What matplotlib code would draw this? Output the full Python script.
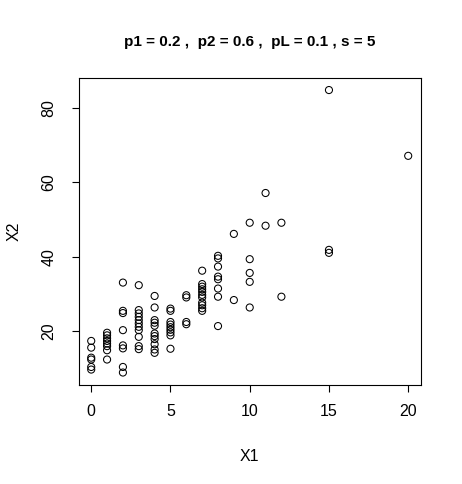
import matplotlib
matplotlib.use("Agg")
import matplotlib.pyplot as plt

plt.rcParams["font.family"] = ["Liberation Sans", "DejaVu Sans"]

# points, one list per X1 value
x1_vals = [0, 1, 2, 3, 4, 5, 6, 7, 8, 9, 10, 11, 12, 15, 20]
x2_vals = [
    [17.3, 15.5, 12.8, 12.3, 10.3, 9.6],
    [19.5, 18.8, 18.0, 17.3, 16.6, 15.9, 14.8, 12.3],
    [33.0, 25.4, 24.8, 20.2, 16.1, 15.3, 10.3, 8.8],
    [32.3, 25.6, 24.7, 23.8, 22.9, 22.0, 21.1, 20.2, 18.4, 15.9, 15.1],
    [29.4, 26.3, 22.9, 22.2, 21.4, 19.3, 18.6, 17.8, 16.4, 15.0, 14.1],
    [26.0, 25.4, 22.4, 21.7, 21.0, 20.3, 19.6, 18.8, 15.2],
    [29.6, 29.0, 22.4, 21.8],
    [36.2, 32.6, 31.9, 31.2, 30.5, 29.7, 29.0, 27.6, 26.9, 26.1, 25.4],
    [40.2, 39.5, 37.3, 34.6, 33.9, 31.4, 29.2, 21.3],
    [46.1, 28.3],
    [49.1, 39.3, 35.6, 33.2, 26.3],
    [57.1, 48.3],
    [49.1, 29.2],
    [84.8, 41.8, 41.0],
    [67.1],
]

X1 = []
X2 = []
for xv, ys in zip(x1_vals, x2_vals):
    for yv in ys:
        X1.append(xv)
        X2.append(yv)

fig = plt.figure(figsize=(4.62, 4.84), dpi=100)
ax = fig.add_axes([0.170, 0.2045, 0.741, 0.6345])

ax.scatter(X1, X2, s=26, facecolors="none", edgecolors="black", linewidths=0.75)

ax.set_xlim(-0.8, 20.8)
ax.set_ylim(5.44, 88.06)
ax.set_xticks([0, 5, 10, 15, 20])
ax.set_yticks([20, 40, 60, 80])
ax.tick_params(direction="out", length=5, width=0.8, labelsize=11.5)
ax.tick_params(axis="x", pad=9)
ax.tick_params(axis="y", pad=11)
for lab in ax.get_yticklabels():
    lab.set_rotation(90)
    lab.set_va("center")
for sp in ax.spines.values():
    sp.set_linewidth(0.8)

ax.set_xlabel("X1", fontsize=11.5, labelpad=21)
ax.set_ylabel("X2", fontsize=11.5, labelpad=14)
ax.set_title("p1 = 0.2 ,  p2 = 0.6 ,  pL = 0.1 , s = 5", fontsize=11,
             fontweight="bold", pad=23)

fig.savefig("out.png", dpi=100)
